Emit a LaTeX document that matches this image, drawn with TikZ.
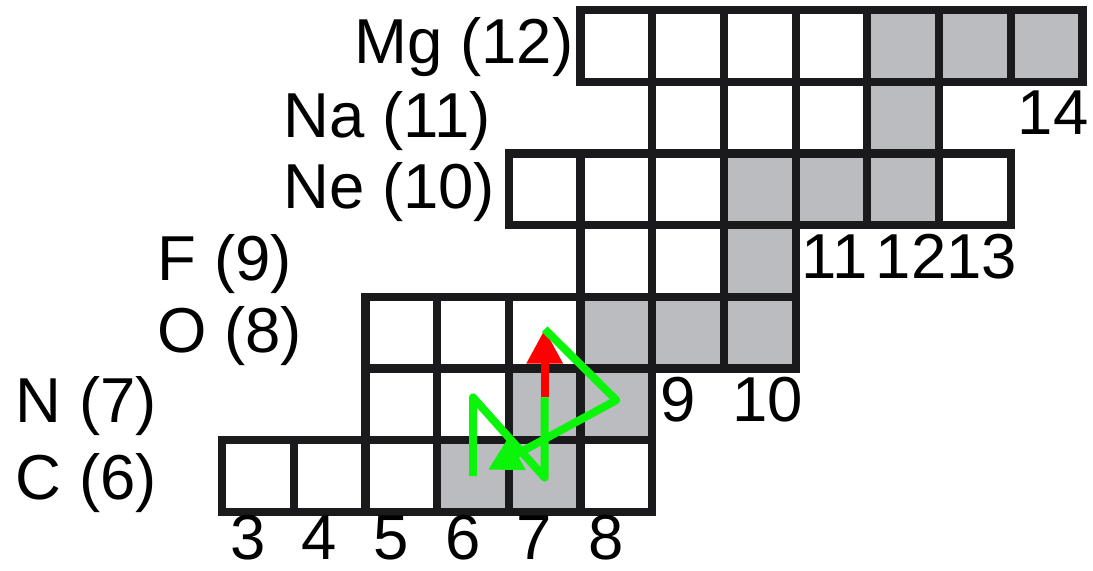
\documentclass[tikz,border=0pt]{standalone}
\usepackage{fontspec}
\setmainfont{Liberation Sans}
\usepackage{tikz}
\usetikzlibrary{arrows.meta}
\definecolor{gridk}{RGB}{26,26,28}
\definecolor{stabg}{RGB}{187,188,192}
\definecolor{cnogreen}{RGB}{10,245,10}
\definecolor{brkred}{RGB}{255,0,0}
\tikzset{
  chartgrid/.style={draw=gridk, line width=0.115cm, line cap=rect},
  stab/.style={fill=stabg},
  elem/.style={font=\fontsize{25.2}{30}\selectfont, inner sep=0pt, anchor=base west},
  nnum/.style={font=\fontsize{25.2}{30}\selectfont, inner sep=0pt, anchor=base},
  cno/.style={draw=cnogreen, line width=0.11cm, line join=round},
  cnoarrow/.style={cno, -{Triangle[length=0.46cm, width=0.48cm]}},
  brk/.style={draw=brkred, line width=0.11cm, -{Triangle[length=0.48cm, width=0.48cm]}}
}

\begin{document}
\begin{tikzpicture}
\useasboundingbox (-0.096,5.191) rectangle (15.147,13.141);
% stable isotopes
\fill[stab] (6,6) rectangle (8,7);
\fill[stab] (7,7) rectangle (9,8);
\fill[stab] (8,8) rectangle (11,9);
\fill[stab] (10,9) rectangle (11,10);
\fill[stab] (10,10) rectangle (13,11);
\fill[stab] (12,11) rectangle (13,12);
\fill[stab] (12,12) rectangle (15,13);
% rows of the chart, one per element
\draw[chartgrid] (3,6) grid (9,7);
\draw[chartgrid] (5,7) grid (9,8);
\draw[chartgrid] (5,8) grid (11,9);
\draw[chartgrid] (8,9) grid (11,10);
\draw[chartgrid] (7,10) grid (14,11);
\draw[chartgrid] (9,11) grid (13,12);
\draw[chartgrid] (8,12) grid (15,13);
% element labels
\node[elem] (lblMg) at (4.84,12.25) {Mg (12)};
\node[elem] (lblNa) at (3.85,11.23) {Na (11)};
\node[elem] (lblNe) at (3.85,10.23) {Ne (10)};
\node[elem] (lblF)  at (2.10,9.23) {F (9)};
\node[elem] (lblO)  at (2.09,8.23) {O (8)};
\node[elem] (lblN)  at (0.12,7.25) {N (7)};
\node[elem] (lblC)  at (0.12,6.17) {C (6)};
% neutron numbers
\node[nnum] (n3) at (3.36,5.34) {3};
\node[nnum] (n4) at (4.36,5.34) {4};
\node[nnum] (n5) at (5.36,5.34) {5};
\node[nnum] (n6) at (6.36,5.34) {6};
\node[nnum] (n7) at (7.36,5.34) {7};
\node[nnum] (n8) at (8.36,5.34) {8};
\node[nnum] (n9) at (9.36,7.26) {9};
\node[nnum] (n10) at (10.61,7.26) {10};
\node[nnum] (n11) at (11.54,9.26) {11};
\node[nnum] (n12) at (12.61,9.26) {12};
\node[nnum] (n13) at (13.59,9.26) {13};
\node[nnum] (n14) at (14.59,11.26) {14};
% CNO cycle
\coordinate (c12) at (6.5,6.5);
\coordinate (n13) at (6.5,7.6);
\coordinate (c13) at (7.5,6.48);
\coordinate (n14) at (7.5,7.6);
\coordinate (o15) at (7.5,8.55);
\coordinate (n15) at (8.5,7.56);
\coordinate (c12in) at (6.71,6.59);
\draw[brk] (n14) -- (o15);
\draw[cno] (c12) -- (n13) -- (c13) -- (n14);
\draw[cnoarrow] (o15) -- (n15) -- (c12in);
\end{tikzpicture}
\end{document}
